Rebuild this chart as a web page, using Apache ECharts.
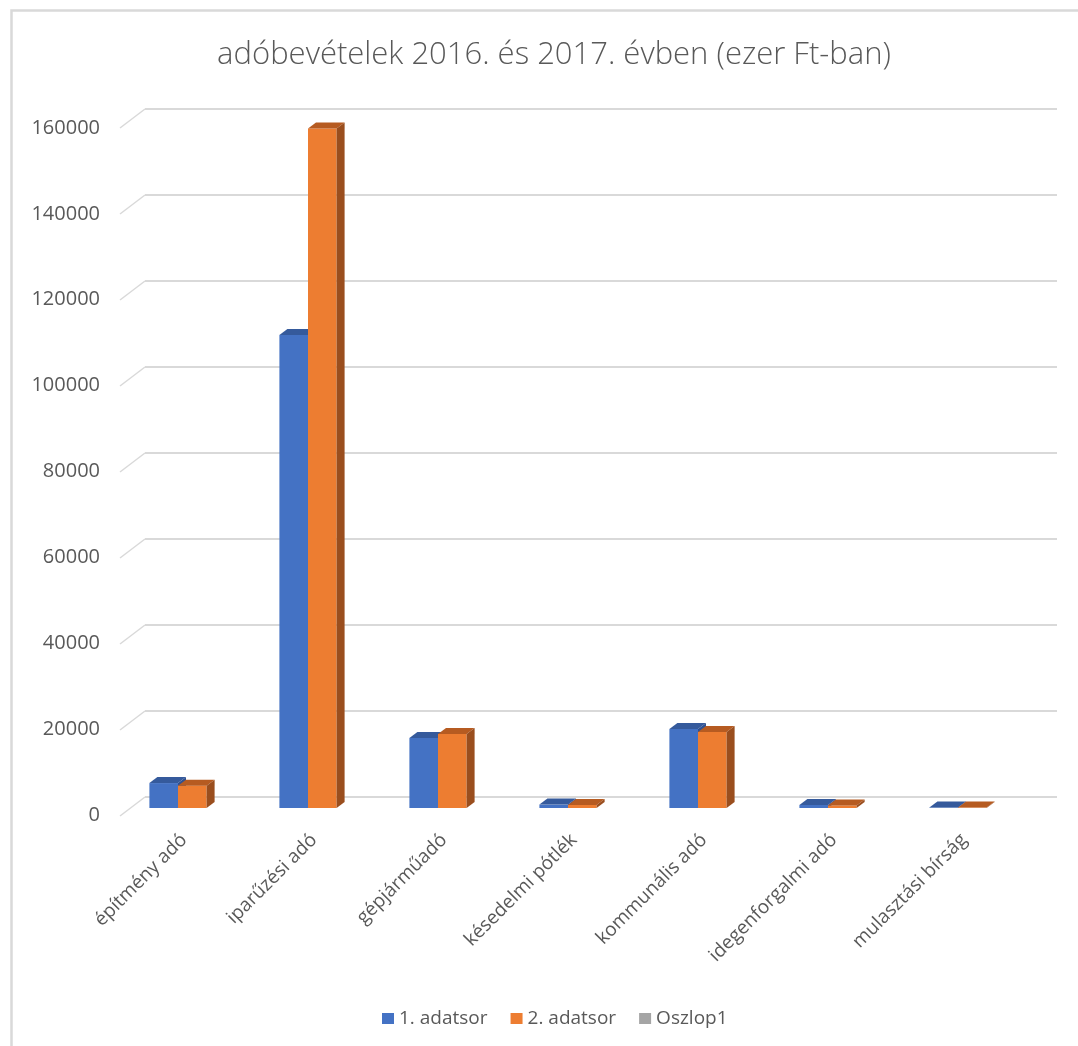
<!DOCTYPE html>
<html>
<head>
<meta charset="utf-8">
<script src="https://cdn.jsdelivr.net/npm/echarts@6/dist/echarts.min.js"></script>
<style>
html,body{margin:0;padding:0;background:#fff;}
#chart{width:1078px;height:1046px;}
</style>
</head>
<body>
<div id="chart"></div>
<script>
const titleText = 'adóbevételek 2016. és 2017. évben (ezer Ft-ban)';
const categories = ['építmény adó','iparűzési adó','gépjárműadó','késedelmi pótlék','kommunális adó','idegenforgalmi adó','mulasztási bírság'];
const series1Name = '1. adatsor';
const series2Name = '2. adatsor';
const series3Name = 'Oszlop1';
const series1 = [5800, 110000, 16300, 800, 18400, 700, 100];
const series2 = [5200, 158000, 17200, 700, 17700, 600, 100];
const yTicks = [0, 20000, 40000, 60000, 80000, 100000, 120000, 140000, 160000];
const yMin = 0, yMax = 160000, yStep = 20000;

const palette = {
  blue: {front: '#4472C4', top: '#355A9C', side: '#2F5191'},
  orange: {front: '#ED7D31', top: '#B65B21', side: '#9A4E1E'}
};
const DX = 8, DY = 6;

function makeRender(which) {
  const col = which === 0 ? palette.blue : palette.orange;
  return function (params, api) {
    const cat = api.value(0), val = api.value(1);
    const base = api.coord([cat, 0]);
    const top = api.coord([cat, val]);
    const band = api.size([1, 0])[0];
    const w = band * 0.22;
    const x0 = which === 0 ? base[0] - w : base[0];
    const x1 = x0 + w;
    const yT = top[1], yB = base[1];
    return {
      type: 'group',
      children: [
        {type: 'rect', shape: {x: x0, y: yT, width: w, height: yB - yT}, style: {fill: col.front}},
        {type: 'polygon', shape: {points: [[x0, yT], [x0 + DX, yT - DY], [x1 + DX, yT - DY], [x1, yT]]}, style: {fill: col.top}},
        {type: 'polygon', shape: {points: [[x1, yT], [x1 + DX, yT - DY], [x1 + DX, yB - DY], [x1, yB]]}, style: {fill: col.side}}
      ]
    };
  };
}

const chart = echarts.init(document.getElementById('chart'), null, {renderer: 'canvas'});
const font = '"Open Sans", sans-serif';
const txt = '#595959';

chart.setOption({
  backgroundColor: '#fff',
  animation: false,
  graphic: [{
    type: 'rect', left: 9, top: 8, shape: {width: 1100, height: 1100},
    style: {fill: 'none', stroke: '#d9d9d9', lineWidth: 2.5}, silent: true
  }],
  title: {
    text: titleText, left: 549, top: 35, textAlign: 'center',
    textStyle: {fontFamily: font, fontSize: 31, fontWeight: 300, color: txt}
  },
  legend: {
    data: [series1Name, series2Name, series3Name],
    left: 377, top: 1004, icon: 'rect', itemWidth: 12, itemHeight: 11, itemGap: 23,
    textStyle: {fontFamily: font, fontSize: 19, color: txt}
  },
  grid: [
    {left: 145, right: 21, top: 109, bottom: 249},
    {left: 113, right: 55, top: 120, bottom: 238},
    {left: 119, right: 49, top: 128, bottom: 231}
  ],
  xAxis: [
    {gridIndex: 0, type: 'category', data: categories, show: false},
    {gridIndex: 1, type: 'category', data: categories, show: false},
    {gridIndex: 2, type: 'category', data: categories,
     axisLine: {show: false}, axisTick: {show: false},
     axisLabel: {rotate: 45, margin: 22, interval: 0, fontFamily: font, fontSize: 19, color: txt}}
  ],
  yAxis: [
    {gridIndex: 0, type: 'value', min: yMin, max: yMax, interval: yStep,
     axisLine: {show: false}, axisTick: {show: false}, axisLabel: {show: false},
     splitLine: {lineStyle: {color: '#d9d9d9', width: 2}}},
    {gridIndex: 1, type: 'value', min: yMin, max: yMax, interval: yStep, show: false, splitLine: {show: false}},
    {gridIndex: 2, type: 'value', min: yMin, max: yMax, interval: yStep,
     axisLine: {show: false}, axisTick: {show: false}, splitLine: {show: false},
     axisLabel: {margin: 19, fontFamily: font, fontSize: 20, color: txt, formatter: v => String(v)}}
  ],
  series: [
    {
      type: 'custom', name: 'diag', xAxisIndex: 0, yAxisIndex: 0, silent: true,
      data: yTicks.map(v => [0, v]),
      renderItem: function (params, api) {
        const p = api.coord([0, api.value(1)]);
        const gx = params.coordSys.x;
        return {type: 'line', shape: {x1: gx - 25, y1: p[1] + 19, x2: gx, y2: p[1]},
                style: {stroke: '#d9d9d9', lineWidth: 1.5}};
      }
    },
    {
      type: 'custom', name: series1Name, xAxisIndex: 1, yAxisIndex: 1,
      itemStyle: {color: palette.blue.front},
      data: series1.map((v, i) => [i, v]),
      encode: {x: 0, y: 1},
      renderItem: makeRender(0)
    },
    {
      type: 'custom', name: series2Name, xAxisIndex: 1, yAxisIndex: 1,
      itemStyle: {color: palette.orange.front},
      data: series2.map((v, i) => [i, v]),
      encode: {x: 0, y: 1},
      renderItem: makeRender(1)
    },
    {
      type: 'bar', name: series3Name, xAxisIndex: 1, yAxisIndex: 1,
      itemStyle: {color: '#A5A5A5'}, data: []
    }
  ]
});
</script>
</body>
</html>
